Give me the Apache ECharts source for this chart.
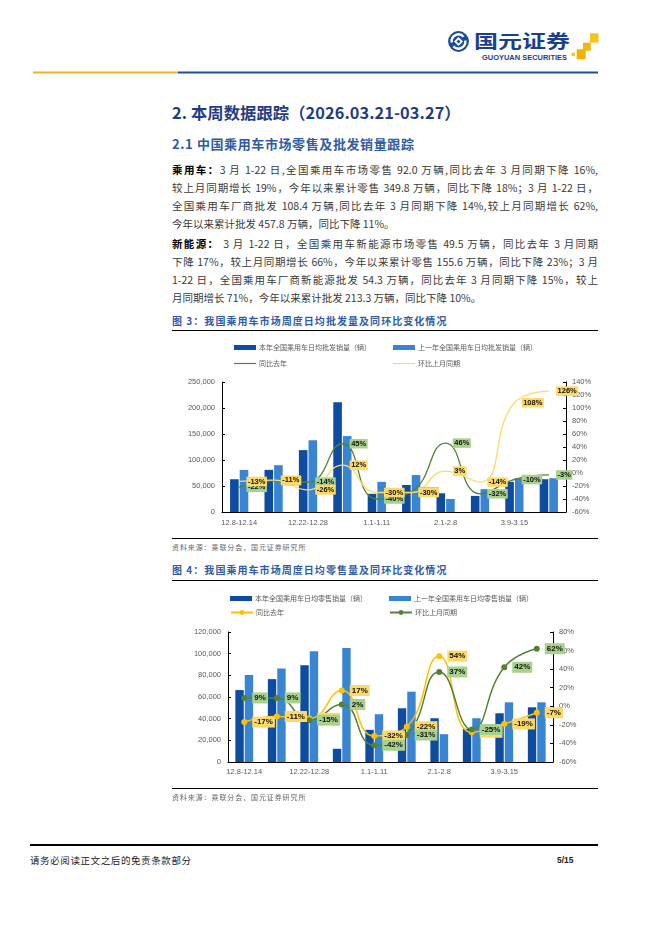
<!DOCTYPE html>
<html><head><meta charset="utf-8">
<script src="https://cdn.jsdelivr.net/npm/echarts@6/dist/echarts.min.js"></script>
<style>
html,body{margin:0;padding:0;background:#fff}
body{width:662px;height:936px;position:relative;overflow:hidden;font-family:"Noto Sans CJK SC",sans-serif}
.abs{position:absolute}
.ln{position:absolute;left:172px;width:426px;height:18px;line-height:18px;font-size:10.5px;color:#3a3a3a;white-space:nowrap;text-align:justify;text-align-last:justify}
.ln.last{text-align-last:left}
.ln b{color:#000}
.figt{position:absolute;left:172px;font-size:10px;font-weight:bold;color:#2F5BA8;letter-spacing:1.05px;line-height:14px}
.rule{position:absolute;left:172px;width:426px;background:#000}
.src{position:absolute;left:172px;font-size:7px;color:#666;letter-spacing:0.9px;line-height:10px}
</style></head>
<body>
<svg class="abs" style="left:0;top:0" width="662" height="80" viewBox="0 0 662 80">
  <circle cx="458.5" cy="41.5" r="10.4" fill="#1C4B9B"/>
  <path d="M451.8 42.5 A6.8 6.8 0 0 1 463.6 36.8" stroke="#fff" stroke-width="2.4" fill="none"/>
  <path d="M465.2 40.5 A6.8 6.8 0 0 1 453.4 46.2" stroke="#fff" stroke-width="2.4" fill="none"/>
  <rect x="455.3" y="38.3" width="6.4" height="6.4" transform="rotate(45 458.5 41.5)" fill="#fff"/>
  <rect x="457.1" y="40.1" width="2.8" height="2.8" transform="rotate(45 458.5 41.5)" fill="#1C4B9B"/>
  <text x="474" y="48" font-size="18" font-weight="bold" fill="#1B3F8F" textLength="96" lengthAdjust="spacingAndGlyphs" font-family="Noto Sans CJK SC">国元证券</text>
  <text x="482" y="60.3" font-size="8" font-weight="bold" fill="#1B3F8F" textLength="85" lengthAdjust="spacingAndGlyphs" font-family="Liberation Sans">GUOYUAN SECURITIES</text>
  <rect x="590" y="33.3" width="8.5" height="9.4" fill="#F7C21A"/>
  <rect x="583" y="42.7" width="7.8" height="8" fill="#F4B60C"/>
  <rect x="576.7" y="49.3" width="9" height="10" fill="#F3B100"/>
  <rect x="571.7" y="52.7" width="3.3" height="3.3" fill="#F6C030"/>
  <rect x="33" y="71.5" width="145" height="2" fill="#F0B41C"/>
  <rect x="178" y="71.5" width="420" height="2" fill="#1F4E9A"/>
</svg>

<div class="abs" style="left:172px;top:101px;font-size:16.3px;font-weight:bold;color:#1F3D86;line-height:22px;letter-spacing:0.1px">2. 本周数据跟踪（2026.03.21-03.27）</div>
<div class="abs" style="left:172px;top:135px;font-size:13px;font-weight:bold;color:#2E5BA3;line-height:18px;letter-spacing:0.6px">2.1 中国乘用车市场零售及批发销量跟踪</div>

<div class="ln" style="top:161px"><b>乘用车：</b>3 月 1-22 日,全国乘用车市场零售 92.0 万辆,同比去年 3 月同期下降 16%,</div>
<div class="ln" style="top:179px">较上月同期增长 19%，今年以来累计零售 349.8 万辆，同比下降 18%；3 月 1-22 日，</div>
<div class="ln" style="top:197px">全国乘用车厂商批发 108.4 万辆,同比去年 3 月同期下降 14%,较上月同期增长 62%,</div>
<div class="ln last" style="top:215px">今年以来累计批发 457.8 万辆，同比下降 11%。</div>

<div class="ln" style="top:235px"><b>新能源：</b> 3 月 1-22 日，全国乘用车新能源市场零售 49.5 万辆，同比去年 3 月同期</div>
<div class="ln" style="top:253px">下降 17%，较上月同期增长 66%，今年以来累计零售 155.6 万辆，同比下降 23%；3 月</div>
<div class="ln" style="top:271px">1-22 日，全国乘用车厂商新能源批发 54.3 万辆，同比去年 3 月同期下降 15%，较上</div>
<div class="ln last" style="top:289px">月同期增长 71%，今年以来累计批发 213.3 万辆，同比下降 10%。</div>

<div class="figt" style="top:314px">图 3：我国乘用车市场周度日均批发量及同环比变化情况</div>
<div class="rule" style="top:329.5px;height:1.5px"></div>
<div id="c1" class="abs" style="left:160px;top:335px;width:440px;height:200px"></div>
<div class="rule" style="top:537.5px;height:1px"></div>
<div class="src" style="top:542px">资料来源：乘联分会，国元证券研究所</div>

<div class="figt" style="top:563px">图 4：我国乘用车市场周度日均零售量及同环比变化情况</div>
<div class="rule" style="top:579.5px;height:1.5px"></div>
<div id="c2" class="abs" style="left:160px;top:585px;width:440px;height:205px"></div>
<div class="rule" style="top:787.5px;height:1px"></div>
<div class="src" style="top:792px">资料来源：乘联分会，国元证券研究所</div>

<div class="abs" style="left:30px;top:844px;width:568px;height:2px;background:#000"></div>
<div class="abs" style="left:30px;top:853px;font-size:9.5px;color:#222;letter-spacing:0.6px;line-height:14px">请务必阅读正文之后的免责条款部分</div>
<div class="abs" style="left:557px;top:853px;font-size:8.5px;font-weight:bold;color:#222;line-height:14px;font-family:'Liberation Sans',sans-serif">5/15</div>

<script>
// ---- data ----
const categories = ['12.8-12.14','12.15-12.21','12.22-12.28','12.29-12.31','1.1-1.11','1.12-1.31','2.1-2.8','3.1-3.8','3.9-3.15','3.16-3.22'];
const wholesaleThisYear = [63000,81000,119000,211000,35000,52000,36000,31000,58000,63000];
const wholesaleLastYear = [81000,90000,138000,146000,58000,71000,25000,44000,65000,65000];
const wholesaleYoY = [-22,-12,-14,45,-40,-29,46,-32,-10,-3];
const wholesaleMoM = [-13,-11,-26,12,-30,-30,3,-14,108,126];
const retailThisYear = [66400,76500,89400,12200,29700,49600,40400,30600,45000,50500];
const retailLastYear = [80200,86300,102200,105300,44100,64900,25700,40400,55100,55100];
const retailYoY = [-17,-11,-13,17,-32,-22,54,-28,-19,-7];
const retailMoM = [9,9,-15,2,-42,-31,37,-25,42,62];
const leftTicks1 = {min:0,max:250000,interval:50000};
const rightTicks1 = {min:-60,max:140,interval:20};
const leftTicks2 = {min:0,max:120000,interval:20000};
const rightTicks2 = {min:-60,max:80,interval:20};
const names1 = ['本年全国乘用车日均批发销量（辆）','上一年全国乘用车日均批发销量（辆）','同比去年','环比上月同期'];
const names2 = ['本年全国乘用车日均零售销量（辆）','上一年全国乘用车日均零售销量（辆）','同比去年','环比上月同期'];

const DARK='#0E4C9F', LIGHT='#3A85D2', GREEN='#548235', GREENBG='#A9D18E', YEL1='#FFD966', YEL2='#FFC000', YELBG='#FFD966';
const AX='#595959', FONT='Liberation Sans';

function fmtThousands(v){return String(v).replace(/\B(?=(\d{3})+(?!\d))/g, ',');}

function legend(name,left,top,icon,opts){
  return Object.assign({data:[icon?{name:name,icon:icon}:{name:name}],left:left,top:top,padding:0,itemWidth:22,itemHeight:5,
    textStyle:{fontSize:7,color:AX,fontFamily:'Noto Sans CJK SC',padding:[0,0,0,-2]},selectedMode:false},opts||{});
}
function yAxes(lt,rt){
  return [
    {type:'value',min:lt.min,max:lt.max,interval:lt.interval,splitLine:{show:false},
     axisLine:{show:true,lineStyle:{color:'#000',width:1}},axisTick:{show:true,inside:true,length:3,lineStyle:{color:'#000'}},
     axisLabel:{fontSize:7.5,color:AX,fontFamily:FONT,margin:7,formatter:fmtThousands}},
    {type:'value',min:rt.min,max:rt.max,interval:rt.interval,splitLine:{show:false},
     axisLine:{show:true,lineStyle:{color:'#000',width:1}},axisTick:{show:true,inside:true,length:3,lineStyle:{color:'#000'}},
     axisLabel:{fontSize:7.5,color:AX,fontFamily:FONT,margin:6,formatter:'{value}%'}}
  ];
}
function xAxis(m){
  return {type:'category',data:categories,axisLine:{lineStyle:{color:'#000',width:1}},axisTick:{show:false},
    axisLabel:{interval:1,fontSize:7.5,color:AX,fontFamily:FONT,margin:m}};
}
function lbl(bg,fs,pad,dist){
  return {show:true,position:'right',distance:dist,formatter:p=>p.value+'%',backgroundColor:bg,color:'#111',
    fontSize:fs,fontWeight:'bold',fontFamily:FONT,padding:pad,lineHeight:fs+1};
}

// ---- chart 1 ----
const c1 = echarts.init(document.getElementById('c1'),null,{renderer:'canvas'});
c1.setOption({
  animation:false,
  legend:[
    legend(names1[0],74,9,'rect'),
    legend(names1[1],233,9,'rect'),
    legend(names1[2],74,25,'rect',{itemHeight:1.2}),
    legend(names1[3],233,25,'rect',{itemHeight:1.2})
  ],
  grid:{left:62,right:34,top:47,bottom:23},
  xAxis:xAxis(7),
  yAxis:yAxes(leftTicks1,rightTicks1),
  series:[
    {name:names1[0],type:'bar',data:wholesaleThisYear,barWidth:8.6,barGap:'12%',itemStyle:{color:DARK}},
    {name:names1[1],type:'bar',data:wholesaleLastYear,barWidth:8.6,barGap:'12%',itemStyle:{color:LIGHT}},
    {name:names1[2],type:'line',yAxisIndex:1,data:wholesaleYoY,smooth:0.5,symbol:'circle',symbolSize:0.5,
     lineStyle:{color:GREEN,width:1.3},itemStyle:{color:GREEN},label:lbl(GREENBG,7.5,[1,1.5,0,1.5],7)},
    {name:names1[3],type:'line',yAxisIndex:1,data:wholesaleMoM,smooth:0.5,symbol:'circle',symbolSize:0.5,
     lineStyle:{color:YEL1,width:1.3},itemStyle:{color:YEL1},label:lbl(YELBG,7.5,[1,1.5,0,1.5],7)}
  ]
});

// ---- chart 2 ----
const c2 = echarts.init(document.getElementById('c2'),null,{renderer:'canvas'});
c2.setOption({
  animation:false,
  legend:[
    legend(names2[0],70,10,'rect'),
    legend(names2[1],229,10,'rect'),
    legend(names2[2],70,24,null,{itemHeight:6}),
    legend(names2[3],229,24,null,{itemHeight:6})
  ],
  grid:{left:68,right:47,top:47,bottom:28},
  xAxis:xAxis(6),
  yAxis:yAxes(leftTicks2,rightTicks2),
  series:[
    {name:names2[0],type:'bar',data:retailThisYear,barWidth:8.4,barGap:'12%',itemStyle:{color:DARK}},
    {name:names2[1],type:'bar',data:retailLastYear,barWidth:8.4,barGap:'12%',itemStyle:{color:LIGHT}},
    {name:names2[2],type:'line',yAxisIndex:1,data:retailYoY,smooth:0.5,symbol:'circle',symbolSize:6,
     lineStyle:{color:YEL2,width:1.5},itemStyle:{color:YEL2},label:lbl(YELBG,8,[1.5,2,0.5,2],5)},
    {name:names2[3],type:'line',yAxisIndex:1,data:retailMoM,smooth:0.5,symbol:'circle',symbolSize:6,
     lineStyle:{color:GREEN,width:1.5},itemStyle:{color:GREEN},label:lbl(GREENBG,8,[1.5,2,0.5,2],5)}
  ]
});
</script>
</body></html>
